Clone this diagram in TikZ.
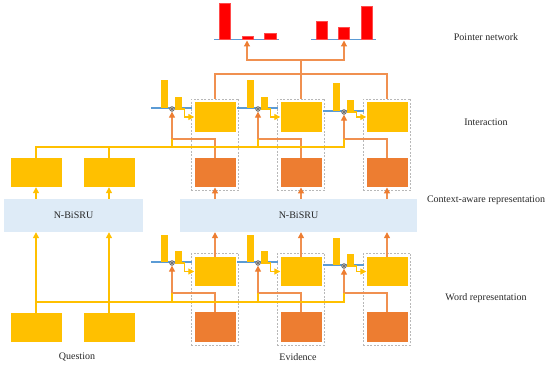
\documentclass[tikz,border=0pt]{standalone}
\usepackage{fontspec}
\setmainfont{Liberation Serif}
\usepackage{tikz}
\usetikzlibrary{arrows.meta,positioning,fit,calc}
\definecolor{gold}{HTML}{FFC000}
\definecolor{ember}{HTML}{ED7D31}
\definecolor{scarlet}{HTML}{FF0000}
\definecolor{mist}{HTML}{DEEBF7}
\definecolor{steel}{HTML}{5B9BD5}
\definecolor{ash}{HTML}{A6A6A6}
\definecolor{ink}{HTML}{262626}
\newcommand{\lblfont}{\fontsize{10}{12}\selectfont}
\tikzset{
  wordbox/.style={rectangle, fill=#1, minimum width=51pt, minimum height=29pt,
    inner sep=0pt},
  wordbox/.default=gold,
  evbox/.style={rectangle, fill=#1, minimum width=41pt, minimum height=29.5pt,
    inner sep=0pt},
  evbox/.default=gold,
  srubox/.style={rectangle, fill=mist, minimum height=33pt, inner sep=0pt,
    font=\lblfont, text=ink},
  groupbox/.style={rectangle, draw=ash!80, dash pattern=on 2pt off 1.5pt,
    line width=0.8pt, inner sep=3pt},
  goldline/.style={draw=gold, line width=1.3pt},
  emberline/.style={draw=ember!85, line width=1.2pt},
  goldarrow/.style={goldline, -{Triangle[length=6pt,width=6pt,color=gold]}},
  emberarrow/.style={emberline, -{Triangle[length=6pt,width=6pt,color=ember]}},
  basebar/.style={draw=steel, line width=1.2pt},
  attbar/.style={fill=gold},
  ptrbar/.style={fill=scarlet, draw=scarlet!70, line width=0.5pt},
  mixdot/.style={circle, fill=ash, draw=ash!60!black, line width=0.3pt,
    minimum size=5pt, inner sep=0pt,
    path picture={\draw[ash!40!black, line width=0.3pt]
      (path picture bounding box.north west) -- (path picture bounding box.south east)
      (path picture bounding box.north east) -- (path picture bounding box.south west);}},
  layerlabel/.style={font=\lblfont, text=ink},
}

\begin{document}
\begin{tikzpicture}[x=1pt, y=-1pt]
  \useasboundingbox (0,0) rectangle (550,366);
  % question side
  \node[wordbox] (q1) at (36,327.5) {};
  \node[wordbox] (q2) at (109,327.5) {};
  \node[srubox, minimum width=139pt] (sru1) at (73.5,215.5) {N-BiSRU};
  \node[srubox, minimum width=237pt] (sru2) at (298.5,215.5) {N-BiSRU};
  \node[wordbox] (cq1) at (36,172.5) {};
  \node[wordbox] (cq2) at (109,172.5) {};
  \draw[goldarrow] (q1.north) -- (q1.north |- sru1.south);
  \draw[goldarrow] (q2.north) -- (q2.north |- sru1.south);
  \draw[goldarrow] (sru1.north -| cq1) -- (cq1.south);
  \draw[goldarrow] (sru1.north -| cq2) -- (cq2.south);

  % evidence columns
  \foreach \i/\x/\bi/\bb in {1/215/108/262, 2/301/108/262, 3/387/111/265} {
    % word representation
    \node[evbox=ember] (bo\i) at (\x,327) {};
    \node[evbox] (by\i) at (\x,271.5) {};
    \node[groupbox, fit=(by\i)(bo\i)] (bg\i) {};
    \draw[basebar] (\x-64,\bb) -- (\x-23,\bb);
    \fill[attbar] (\x-54,\bb) rectangle (\x-47,\bb-27);
    \fill[attbar] (\x-40,\bb) rectangle (\x-33,\bb-11);
    \node[mixdot] (ba\i) at (\x-43,\bb+1) {};
    \coordinate (bj\i) at (\x-43,293);
    \draw[emberline] (bo\i.north) |- (bj\i);
    \draw[emberarrow] (bj\i) -- (ba\i.south);
    \draw[goldarrow] (ba\i.east) -- ++(10,0) |- (by\i.west);
    \draw[emberarrow] (by\i.north) -- (by\i.north |- sru2.south);
    % interaction
    \node[evbox=ember] (io\i) at (\x,172.5) {};
    \node[evbox] (iy\i) at (\x,117) {};
    \node[groupbox, fit=(iy\i)(io\i)] (ig\i) {};
    \draw[basebar] (\x-64,\bi) -- (\x-23,\bi);
    \fill[attbar] (\x-54,\bi) rectangle (\x-47,\bi-28);
    \fill[attbar] (\x-40,\bi) rectangle (\x-33,\bi-11);
    \node[mixdot] (ia\i) at (\x-43,\bi+1) {};
    \coordinate (ij\i) at (\x-43,139);
    \draw[emberline] (io\i.north) |- (ij\i);
    \draw[emberarrow] (ij\i) -- (ia\i.south);
    \draw[goldarrow] (ia\i.east) -- ++(10,0) |- (iy\i.west);
    \draw[emberarrow] (sru2.north -| io\i) -- (io\i.south);
  }

  % question features into attention
  \coordinate (yi) at (0,147);
  \coordinate (yb) at (0,302);
  \draw[goldline] (cq1.north) |- (ij3 |- yi) -- (ij3);
  \draw[goldline] (cq2.north) -- (cq2.north |- yi);
  \draw[goldline] (ij1 |- yi) -- (ij1);
  \draw[goldline] (ij2 |- yi) -- (ij2);
  \draw[goldline] (q1.north |- yb) -| (bj3);
  \draw[goldline] (bj1 |- yb) -- (bj1);
  \draw[goldline] (bj2 |- yb) -- (bj2);

  % pointer network
  \draw[basebar] (214,39.5) -- (279,39.5);
  \draw[basebar] (311,39.5) -- (376,39.5);
  \draw[ptrbar] (219,39) rectangle (230,3.5);
  \draw[ptrbar] (242,39) rectangle (253,36);
  \draw[ptrbar] (264,39) rectangle (276,33);
  \draw[ptrbar] (316,39) rectangle (327,21);
  \draw[ptrbar] (338,39) rectangle (349,27);
  \draw[ptrbar] (361,39) rectangle (372,6);
  \coordinate (pa1) at (247,40.5);
  \coordinate (pa2) at (344,40.5);
  \coordinate (pt) at (0,74);
  \coordinate (pj) at (301,60);
  \draw[emberline] (ig1.north) |- (ig3.north |- pt) -- (ig3.north);
  \draw[emberline] (ig2.north) -- (pj);
  \draw[emberarrow] (pj) -| (pa1);
  \draw[emberarrow] (pj) -| (pa2);

  % labels
  \node[layerlabel] (lptr) at (486,37) {Pointer network};
  \node[layerlabel] (lint) at (486,122) {Interaction};
  \node[layerlabel] (lctx) at (486,200) {Context-aware representation};
  \node[layerlabel] (lword) at (486,298) {Word representation};
  \node[layerlabel] (lq) at (77,357) {Question};
  \node[layerlabel] (lev) at (298,357) {Evidence};
\end{tikzpicture}
\end{document}
